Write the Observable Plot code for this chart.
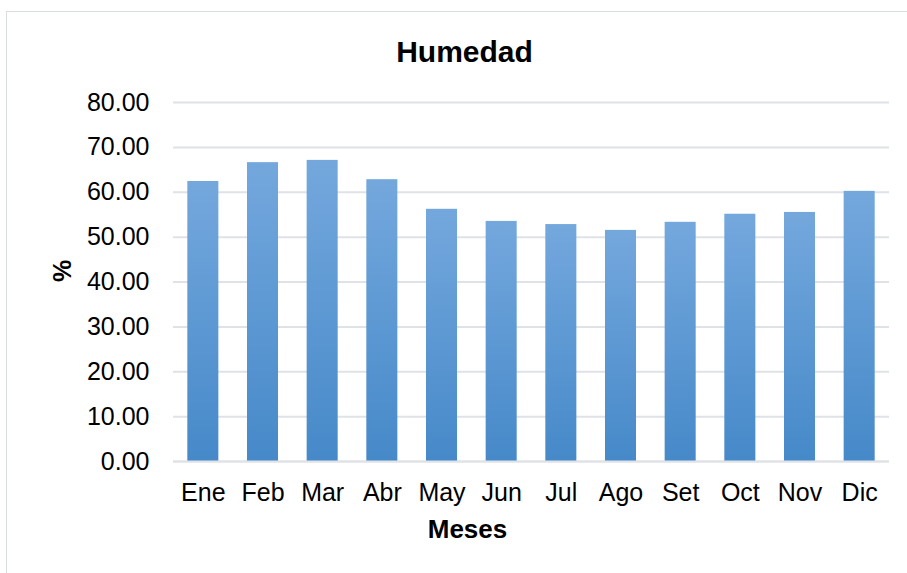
<!DOCTYPE html>
<html><head><meta charset="utf-8">
<script src="https://cdn.jsdelivr.net/npm/d3@7"></script>
<script src="https://cdn.jsdelivr.net/npm/@observablehq/plot@0.6"></script>
<style>
body{margin:0;overflow:hidden;background:#fff;font-family:"Liberation Sans",Arial,sans-serif}
#wrap{position:relative;width:907px;height:573px;overflow:hidden}
#frame{position:absolute;left:6px;top:11px;width:940px;height:620px;border:1px solid #d9dde3;box-sizing:border-box}
#title{position:absolute;left:0;width:929px;text-align:center;top:35px;font-weight:bold;font-size:30px;color:#000}
#chart{position:absolute;left:0;top:0}
</style></head>
<body>
<div id="wrap"><div id="frame"></div><div id="title">Humedad</div><div id="chart"></div></div>
<script>
const months = ["Ene","Feb","Mar","Abr","May","Jun","Jul","Ago","Set","Oct","Nov","Dic"];
const humidity = [62.4, 66.6, 67.1, 62.8, 56.2, 53.5, 52.8, 51.5, 53.3, 55.1, 55.5, 60.2];
const yTicks = [0, 10, 20, 30, 40, 50, 60, 70, 80];
const xTitle = "Meses";
const yTitle = "%";

const data = months.map((m, i) => ({mes: m, valor: humidity[i]}));

const plot = Plot.plot({
  width: 907, height: 573,
  marginTop: 102, marginLeft: 173, marginRight: 18, marginBottom: 112,
  style: {fontFamily: "'Liberation Sans', Arial, sans-serif", fontSize: "25px", background: "transparent", color: "#000", overflow: "visible"},
  x: {domain: months, paddingInner: 0.48, paddingOuter: 0.24, round: false},
  y: {domain: [0, 80]},
  marks: [
    Plot.gridY(yTicks, {stroke: "#dfe2e7", strokeOpacity: 1, strokeWidth: 2}),
    Plot.barY(data, {x: "mes", y: "valor", fill: "url(#barGrad)"}),
    Plot.ruleY([0], {stroke: "#dfe2e7", strokeWidth: 2}),
    Plot.axisY(yTicks, {tickSize: 0, tickPadding: 24, tickFormat: d => d.toFixed(2), label: null, fontSize: 25, fill: "#000"}),
    Plot.axisX({tickSize: 0, tickPadding: 22, label: null, fontSize: 25, fill: "#000"}),
    Plot.text([xTitle], {frameAnchor: "bottom", lineAnchor: "middle", dy: 68, dx: -64, text: d => d, fontWeight: "bold", fontSize: 26, fill: "#000"}),
    Plot.text([yTitle], {frameAnchor: "left", dx: -111, text: d => d, rotate: -90, fontWeight: "bold", fontSize: 25, fill: "#000"})
  ]
});

const svg = d3.select(plot);
const grad = svg.insert("defs", ":first-child").append("linearGradient")
  .attr("id", "barGrad").attr("x1", 0).attr("y1", 0).attr("x2", 0).attr("y2", 1);
grad.append("stop").attr("offset", "0%").attr("stop-color", "#74a8dd");
grad.append("stop").attr("offset", "100%").attr("stop-color", "#4689c9");

document.getElementById("chart").appendChild(plot);
</script>
</body></html>
